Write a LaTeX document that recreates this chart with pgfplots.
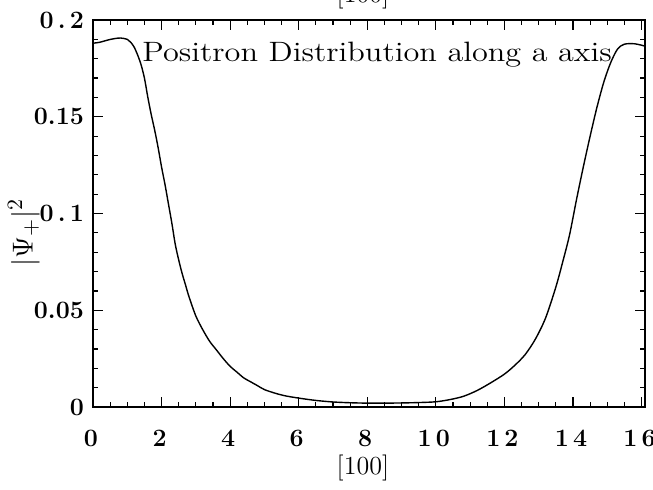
\documentclass[border=0pt]{standalone}
\usepackage{pgfplots}
\pgfplotsset{compat=1.18}
\begin{document}
\begin{tikzpicture}
\useasboundingbox (-46.5pt,-41pt) rectangle (280pt,203.5pt);
\clip (-46.5pt,-41pt) rectangle (280pt,203.5pt);
\begin{axis}[
  scale only axis,
  width=276pt, height=193.5pt,
  xmin=0, xmax=16.1, ymin=0, ymax=0.2,
  xtick={0,2,4,6,8,10,12,14,16},
  xticklabels={\textbf{0},\textbf{2},\textbf{4},\textbf{6},\textbf{8},\textbf{1\,0},\textbf{1\,2},\textbf{1\,4},\textbf{1\,6}\hspace{9pt}},
  ytick={0,0.05,0.1,0.15,0.2},
  yticklabels={\textbf{0},\textbf{0.05},\textbf{0\,.\,1},\textbf{0.15},\textbf{0\,.\,2}},
  minor x tick num=3,
  minor y tick num=4,
  tick align=inside,
  major tick length=5pt,
  minor tick length=2.5pt,
  tick style={black, line width=0.6pt},
  axis line style={line width=0.8pt},
  ticklabel style={font=\fontsize{12.5}{14}\selectfont},
  xticklabel style={inner sep=0.5pt, yshift=-11pt, xshift=-1pt},
  yticklabel style={xshift=-1pt},
  xlabel={[100]},
  every axis x label/.style={at={(rel axis cs:0.489,0)}, yshift=-30.5pt, anchor=center, inner sep=0pt, font=\fontsize{13}{15}\selectfont},
  ylabel={$|\Psi_+|^2$},
  every axis y label/.style={at={(rel axis cs:-0.125,0.45)}, rotate=90, anchor=center, font=\fontsize{15}{17}\selectfont},
  title={[100]},
  every axis title/.style={at={(rel axis cs:0.489,1)}, yshift=9pt, anchor=base, font=\fontsize{13}{15}\selectfont},
]
\addplot[black, line width=0.7pt, smooth] coordinates {
(0,0.188) (0.2,0.1885) (0.4,0.1895) (0.6,0.1903) (0.8,0.1907) (1.0,0.1900)
(1.1,0.1885) (1.2,0.186) (1.3,0.182) (1.4,0.177) (1.5,0.170) (1.6,0.160)
(1.7,0.151) (1.8,0.143) (1.9,0.134) (2.0,0.124) (2.1,0.115) (2.2,0.105)
(2.3,0.095) (2.4,0.084) (2.5,0.076) (2.6,0.069) (2.7,0.063) (2.8,0.057)
(3.0,0.047) (3.2,0.040) (3.4,0.034) (3.6,0.0295) (3.8,0.025) (4.0,0.021)
(4.2,0.018) (4.4,0.015) (4.6,0.013) (4.8,0.011) (5.0,0.0090) (5.3,0.0072)
(5.6,0.0058) (6.0,0.0046) (6.5,0.0034) (7.0,0.0026) (7.5,0.0022) (8.0,0.0020)
(8.5,0.0020) (9.0,0.0021) (9.5,0.0023) (10.0,0.0027) (10.4,0.0038) (10.8,0.0055)
(11.2,0.0085) (11.6,0.0125) (12.0,0.0170) (12.3,0.0215) (12.6,0.027) (12.9,0.035)
(13.2,0.046) (13.5,0.062) (13.7,0.075) (13.9,0.089) (14.1,0.107) (14.3,0.124)
(14.5,0.140) (14.7,0.155) (14.9,0.168) (15.1,0.178) (15.3,0.185) (15.5,0.1875)
(15.8,0.1877) (16.1,0.1865)
};
\node[anchor=base west, inner sep=0pt] at (rel axis cs:0.0888,0.894)
  {\scalebox{1.153}[1]{\fontsize{14}{16}\selectfont Positron Distribution along a axis}};
\end{axis}
\end{tikzpicture}
\end{document}
